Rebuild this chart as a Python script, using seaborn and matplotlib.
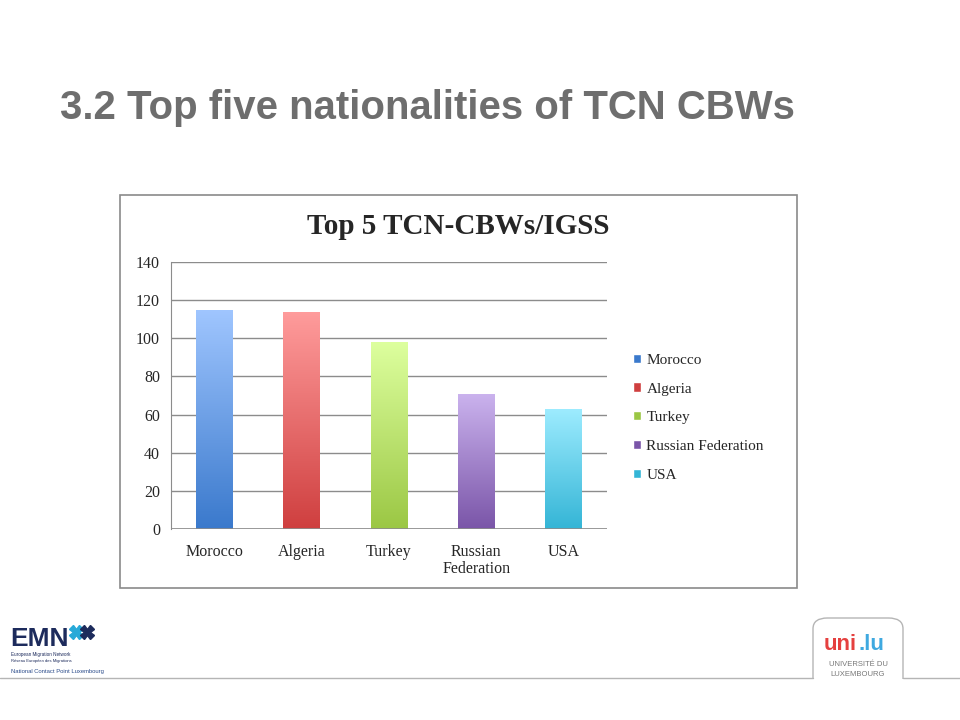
import matplotlib
matplotlib.use("Agg")
import matplotlib.pyplot as plt
from matplotlib.patches import Rectangle, FancyBboxPatch
from matplotlib.colors import LinearSegmentedColormap
import seaborn as sns
import numpy as np
import pandas as pd

countries = ["Morocco", "Algeria", "Turkey", "Russian Federation", "USA"]
tick_labels = ["Morocco", "Algeria", "Turkey", "Russian\nFederation", "USA"]
workers = [115, 114, 98, 71, 63]
top_colors = ["#a0c6ff", "#ff9c9c", "#ddff9e", "#cbb3ee", "#9eecff"]
bottom_colors = ["#3a79cc", "#cf3f3f", "#9bc744", "#7a55a8", "#34b5d6"]

df = pd.DataFrame({"country": countries, "workers": workers})

sns.set_style("white")
plt.rcParams["font.family"] = ["Liberation Serif", "DejaVu Serif"]
sans = ["Liberation Sans", "DejaVu Sans"]

fig = plt.figure(figsize=(9.6, 7.2), dpi=100)
fig.patch.set_facecolor("white")

# slide title
fig.text(60 / 960, 1 - 108 / 720, "3.2 Top five nationalities of TCN CBWs",
         fontsize=28.9, fontweight="bold", color="#6e6e6e",
         family=sans, va="center", ha="left")

# chart frame
fig.add_artist(Rectangle((120 / 960, 1 - 588 / 720), 677 / 960, 393 / 720,
                         transform=fig.transFigure, fill=False,
                         edgecolor="#8a8a8a", lw=1.2))

ax = fig.add_axes([171 / 960, 1 - 529 / 720, 436 / 960, 267 / 720])
sns.barplot(data=df, x="country", y="workers", hue="country",
            palette=bottom_colors, width=0.42, ax=ax, legend=False)

ax.set_ylim(0, 140)
ax.set_xlim(-0.5, 4.5)
ax.set_yticks(range(0, 141, 20))
ax.yaxis.grid(True, color="#8c8c8c", lw=1)
ax.set_axisbelow(True)
for s in ["top", "right", "bottom"]:
    ax.spines[s].set_visible(False)
ax.spines["left"].set_color("#8c8c8c")
ax.axhline(0, color="#8c8c8c", lw=1.2, zorder=3)
ax.set_xlabel("")
ax.set_ylabel("")
ax.set_xticks(range(5))
ax.set_xticklabels(tick_labels, fontsize=11.5, linespacing=1.1)
ax.set_xticks(np.arange(-0.5, 5, 1), minor=True)
ax.tick_params(axis="x", which="major", length=0, pad=11)
ax.tick_params(axis="x", which="minor", length=6, color="#8c8c8c", width=1)
ax.tick_params(axis="y", length=4, color="#8c8c8c", labelsize=11.5, pad=4)

# vertical gradient fill for each bar
grad = np.linspace(0, 1, 256).reshape(-1, 1)
for patch, c0, c1 in zip(ax.patches, bottom_colors, top_colors):
    x0, y0 = patch.get_x(), patch.get_y()
    w, h = patch.get_width(), patch.get_height()
    cmap = LinearSegmentedColormap.from_list("g", [c0, c1])
    im = ax.imshow(grad, cmap=cmap, origin="lower", aspect="auto",
                   extent=[x0, x0 + w, y0, y0 + h], zorder=2)
    im.set_clip_path(patch)
    patch.set_facecolor("none")
    patch.set_edgecolor("none")
ax.set_xlim(-0.5, 4.5)
ax.set_ylim(0, 140)

ax.set_title("Top 5 TCN-CBWs/IGSS", fontsize=21, fontweight="bold",
             x=0.658, y=1.0, pad=20)

# legend
handles = [Rectangle((0, 0), 1, 1, facecolor=c) for c in bottom_colors]
fig.legend(handles, countries, loc="upper left",
           bbox_to_anchor=(619 / 960, 1 - 340 / 720), frameon=False,
           fontsize=11, handlelength=0.55, handleheight=0.55,
           handletextpad=0.35, labelspacing=1.03)

# footer line and logos
fig.add_artist(plt.Line2D([0, 813 / 960], [1 - 678 / 720] * 2,
                          transform=fig.transFigure, color="#b5b5b5", lw=1))
fig.add_artist(plt.Line2D([903 / 960, 1], [1 - 678 / 720] * 2,
                          transform=fig.transFigure, color="#b5b5b5", lw=1))
fig.add_artist(FancyBboxPatch((813 / 960, 1 - 690 / 720), 90 / 960, 72 / 720,
                              boxstyle="round,pad=0,rounding_size=0.015",
                              transform=fig.transFigure, fill=False,
                              edgecolor="#b5b5b5", lw=1))
fig.add_artist(Rectangle((812 / 960, 1 - 700 / 720), 92 / 960, 21 / 720,
                         transform=fig.transFigure, facecolor="white",
                         edgecolor="none"))
fig.text(857 / 960, 1 - 650 / 720, "uni", color="#e5403f", fontsize=16,
         fontweight="bold", family=sans, va="baseline", ha="right")
fig.text(858 / 960, 1 - 650 / 720, ".lu", color="#3fa9e0", fontsize=16,
         fontweight="bold", family=sans, va="baseline", ha="left")
fig.text(858 / 960, 1 - 666 / 720, "UNIVERSITÉ DU", color="#777777",
         fontsize=5.5, family=sans, ha="center")
fig.text(858 / 960, 1 - 676 / 720, "LUXEMBOURG", color="#777777",
         fontsize=5.5, family=sans, ha="center")

fig.text(10 / 960, 1 - 646 / 720, "EMN", color="#1d2b5c", fontsize=19,
         fontweight="bold", family=sans, va="baseline")
fig.add_artist(plt.Line2D([76 / 960], [1 - 632 / 720], marker="X",
                          markersize=10, color="#27a9d8",
                          transform=fig.transFigure))
fig.add_artist(plt.Line2D([87 / 960], [1 - 632 / 720], marker="X",
                          markersize=10, color="#1d2b5c",
                          transform=fig.transFigure))
fig.text(11 / 960, 1 - 656 / 720, "European Migration Network", color="#1d2b5c",
         fontsize=3.3, family=sans)
fig.text(11 / 960, 1 - 662 / 720, "Réseau Européen des Migrations",
         color="#1d2b5c", fontsize=3.0, family=sans)
fig.text(11 / 960, 1 - 673 / 720, "National Contact Point Luxembourg",
         color="#2a4b8a", fontsize=4.2, family=sans)

plt.savefig("out.png", dpi=100)
